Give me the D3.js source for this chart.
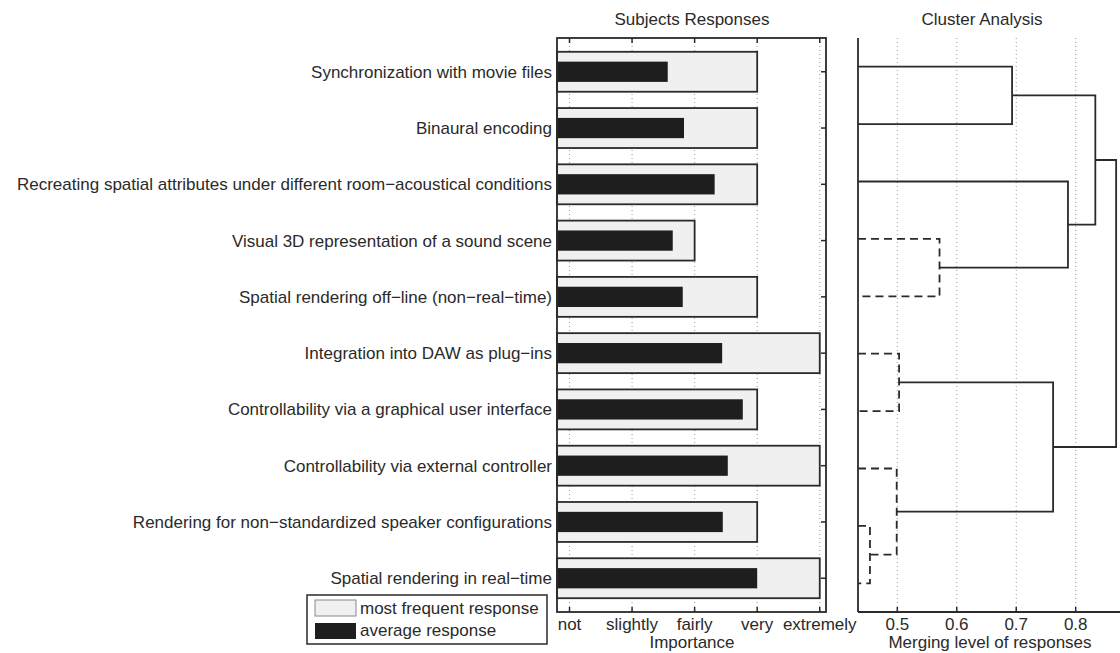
<!DOCTYPE html>
<html><head><meta charset="utf-8">
<script src="https://cdn.jsdelivr.net/npm/d3@7"></script>
<style>body{margin:0;background:#fff}svg{display:block}text{font-family:"Liberation Sans",Arial,sans-serif;fill:#2a2a2a}</style>
</head><body><svg id="c" width="1120" height="653"></svg>
<script>
const categories = [
  "Synchronization with movie files",
  "Binaural encoding",
  "Recreating spatial attributes under different room\u2212acoustical conditions",
  "Visual 3D representation of a sound scene",
  "Spatial rendering off\u2212line (non\u2212real\u2212time)",
  "Integration into DAW as plug\u2212ins",
  "Controllability via a graphical user interface",
  "Controllability via external controller",
  "Rendering for non\u2212standardized speaker configurations",
  "Spatial rendering in real\u2212time"
];
const mostFrequent = [4, 4, 4, 3, 4, 5, 4, 5, 4, 5];
const averageResp = [2.57, 2.83, 3.32, 2.65, 2.81, 3.44, 3.77, 3.53, 3.45, 4.0];
const importanceTicks = [1, 2, 3, 4, 5];
const importanceLabels = ["not", "slightly", "fairly", "very", "extremely"];
const mergeTicks = [0.5, 0.6, 0.7, 0.8];
// dendrogram links: [leaf/cluster A, leaf/cluster B, merge height, dashed]
// leaves 1..10; clusters 11.. in order of creation
const links = [
  [9, 10, 0.454, true],   // 11
  [6, 7, 0.503, true],    // 12
  [8, 11, 0.499, true],   // 13
  [4, 5, 0.571, true],    // 14
  [1, 2, 0.693, false],   // 15
  [12, 13, 0.762, false], // 16
  [3, 14, 0.787, false],  // 17
  [15, 17, 0.833, false], // 18
  [18, 16, 0.868, false]  // 19
];

const svg = d3.select("#c");
const ink = "#2a2a2a";
const FS = 17;

// ---------- left panel ----------
const L = {x0: 557, x1: 826, y0: 38, y1: 612};
const x = d3.scaleLinear().domain([0.8, 5.1]).range([L.x0, L.x1]);
const y = d3.scaleLinear().domain([0.4, 10.6]).range([L.y0, L.y1]);
const g = svg.append("g");

// dotted grid
g.selectAll(".grid").data(importanceTicks).join("line")
  .attr("x1", d => x(d)).attr("x2", d => x(d)).attr("y1", L.y0).attr("y2", L.y1)
  .attr("stroke", "#999").attr("stroke-width", 1).attr("stroke-dasharray", "1,3");

const rowH = y(2) - y(1);
g.selectAll(".mf").data(mostFrequent).join("rect")
  .attr("x", x(0.8)).attr("y", (d, i) => y(i + 1) - rowH * 0.355)
  .attr("width", d => x(d) - x(0.8)).attr("height", rowH * 0.71)
  .attr("fill", "#f0f0f0").attr("stroke", ink).attr("stroke-width", 1.8);
g.selectAll(".av").data(averageResp).join("rect")
  .attr("x", x(0.8)).attr("y", (d, i) => y(i + 1) - rowH * 0.18)
  .attr("width", d => x(d) - x(0.8)).attr("height", rowH * 0.36)
  .attr("fill", "#1e1e1e");

// frame
g.append("rect").attr("x", L.x0).attr("y", L.y0).attr("width", L.x1 - L.x0).attr("height", L.y1 - L.y0)
  .attr("fill", "none").attr("stroke", ink).attr("stroke-width", 1.8);
// inward ticks top/bottom
importanceTicks.forEach(t => {
  g.append("line").attr("x1", x(t)).attr("x2", x(t)).attr("y1", L.y0).attr("y2", L.y0 + 5).attr("stroke", ink).attr("stroke-width", 1.5);
  g.append("line").attr("x1", x(t)).attr("x2", x(t)).attr("y1", L.y1).attr("y2", L.y1 - 5).attr("stroke", ink).attr("stroke-width", 1.5);
});
// right side ticks at rows
categories.forEach((c, i) => {
  g.append("line").attr("x1", L.x1).attr("x2", L.x1 - 5).attr("y1", y(i + 1)).attr("y2", y(i + 1)).attr("stroke", ink).attr("stroke-width", 1.5);
});
// category labels
g.selectAll(".cl").data(categories).join("text")
  .attr("x", 552).attr("y", (d, i) => y(i + 1) + 6)
  .attr("text-anchor", "end").attr("font-size", FS).text(d => d);
// x tick labels
g.selectAll(".xl").data(importanceTicks).join("text")
  .attr("x", d => x(d)).attr("y", 630).attr("text-anchor", "middle").attr("font-size", FS)
  .text((d, i) => importanceLabels[i]);
g.append("text").attr("x", 692).attr("y", 648).attr("text-anchor", "middle").attr("font-size", FS).text("Importance");
g.append("text").attr("x", 692).attr("y", 25).attr("text-anchor", "middle").attr("font-size", FS).text("Subjects Responses");

// legend
const lg = svg.append("g");
lg.append("rect").attr("x", 307).attr("y", 595).attr("width", 240).attr("height", 49)
  .attr("fill", "#fff").attr("stroke", ink).attr("stroke-width", 1.5);
lg.append("rect").attr("x", 315).attr("y", 600).attr("width", 41).attr("height", 16)
  .attr("fill", "#f0f0f0").attr("stroke", "#888").attr("stroke-width", 1);
lg.append("rect").attr("x", 315).attr("y", 623).attr("width", 41).attr("height", 16)
  .attr("fill", "#1e1e1e");
lg.append("text").attr("x", 360).attr("y", 614).attr("font-size", FS).text("most frequent response");
lg.append("text").attr("x", 360).attr("y", 636).attr("font-size", FS).text("average response");

// ---------- right panel ----------
const R = {x0: 858, y0: 38, y1: 612};
const xr = d3.scaleLinear().domain([0.5, 0.8]).range([897.3, 1075.7]);
const yr = d3.scaleLinear().domain([0.5, 10.5]).range([R.y0, R.y1]);
const gr = svg.append("g");
gr.selectAll(".rg").data(mergeTicks).join("line")
  .attr("x1", d => xr(d)).attr("x2", d => xr(d)).attr("y1", R.y0).attr("y2", R.y1)
  .attr("stroke", "#999").attr("stroke-width", 1).attr("stroke-dasharray", "1,3");
mergeTicks.forEach(t => {
  gr.append("line").attr("x1", xr(t)).attr("x2", xr(t)).attr("y1", R.y1).attr("y2", R.y1 - 5).attr("stroke", ink).attr("stroke-width", 1.5);
});

// compute node positions
const nodes = {};
for (let i = 1; i <= 10; i++) nodes[i] = {h: null, pos: i};
links.forEach((l, k) => {
  const a = nodes[l[0]], b = nodes[l[1]];
  nodes[11 + k] = {h: l[2], pos: (a.pos + b.pos) / 2};
});
const xMin = xr.invert(R.x0);
const hx = h => xr(h === null ? xMin : h);
links.forEach(l => {
  const a = nodes[l[0]], b = nodes[l[1]], h = l[2];
  const p = d3.path();
  p.moveTo(hx(a.h), yr(a.pos));
  p.lineTo(xr(h), yr(a.pos));
  p.lineTo(xr(h), yr(b.pos));
  p.lineTo(hx(b.h), yr(b.pos));
  gr.append("path").attr("d", p.toString()).attr("fill", "none")
    .attr("stroke", ink).attr("stroke-width", 1.8)
    .attr("stroke-dasharray", l[3] ? "8,5" : null);
});
// axis lines
gr.append("line").attr("x1", R.x0).attr("x2", R.x0).attr("y1", R.y0).attr("y2", R.y1).attr("stroke", ink).attr("stroke-width", 1.8);
gr.append("line").attr("x1", R.x0).attr("x2", 1120).attr("y1", R.y1).attr("y2", R.y1).attr("stroke", ink).attr("stroke-width", 1.8);
gr.selectAll(".rl").data(mergeTicks).join("text")
  .attr("x", d => xr(d)).attr("y", 630).attr("text-anchor", "middle").attr("font-size", FS)
  .text(d => d3.format(".1f")(d));
gr.append("text").attr("x", 990).attr("y", 648).attr("text-anchor", "middle").attr("font-size", FS).text("Merging level of responses");
gr.append("text").attr("x", 982).attr("y", 25).attr("text-anchor", "middle").attr("font-size", FS).text("Cluster Analysis");
</script></body></html>
